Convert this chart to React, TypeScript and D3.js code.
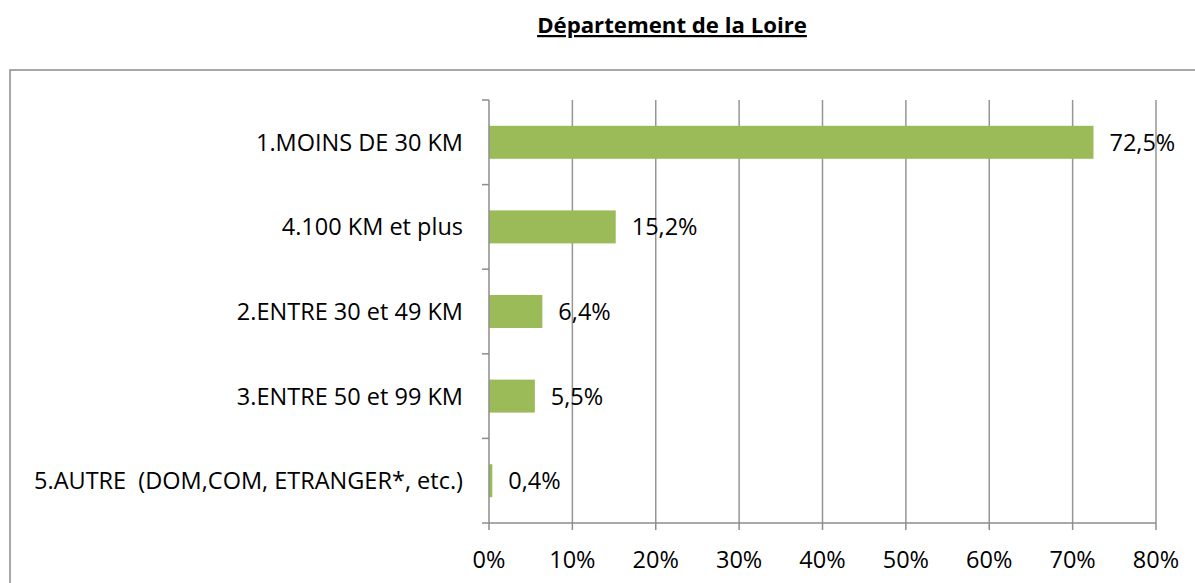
import { useEffect, useRef } from 'react';
import * as d3 from 'd3';

const categories = [
  '1.MOINS DE 30 KM',
  '4.100 KM et plus',
  '2.ENTRE 30 et 49 KM',
  '3.ENTRE 50 et 99 KM',
  '5.AUTRE  (DOM,COM, ETRANGER*, etc.)',
];
const values = [72.5, 15.2, 6.4, 5.5, 0.4];
const xTicks = [0, 10, 20, 30, 40, 50, 60, 70, 80];

const W = 1195;
const H = 583;
const FONT = '"Open Sans", Lato, sans-serif';
const FS = '23.5px';

export default function App() {
  const ref = useRef<SVGSVGElement | null>(null);

  useEffect(() => {
    const svg = d3.select(ref.current);
    svg.selectAll('*').remove();

    const left = 489;
    const right = 1156;
    const top = 100;
    const bottom = 523;

    const x = d3.scaleLinear().domain([0, 80]).range([left, right]);
    const y = d3.scaleBand().domain(categories).range([top, bottom]).paddingInner(0.61).paddingOuter(0.305);
    const band = d3.scaleBand().domain(categories).range([top, bottom]);

    // title
    svg
      .append('text')
      .attr('x', 672)
      .attr('y', 33)
      .attr('text-anchor', 'middle')
      .style('font-family', FONT)
      .style('font-size', '22.2px')
      .style('font-weight', 'bold')
      .style('text-decoration', 'underline')
      .text('Département de la Loire');

    // outer frame
    svg
      .append('rect')
      .attr('x', 10)
      .attr('y', 70)
      .attr('width', W)
      .attr('height', H)
      .attr('fill', 'none')
      .attr('stroke', '#8c8c8c')
      .attr('stroke-width', 1.5);

    // vertical gridlines
    svg
      .append('g')
      .selectAll('line')
      .data(xTicks.slice(1))
      .join('line')
      .attr('x1', (d) => x(d))
      .attr('x2', (d) => x(d))
      .attr('y1', top)
      .attr('y2', bottom)
      .attr('stroke', '#969696')
      .attr('stroke-width', 1.5);

    // bars
    svg
      .append('g')
      .selectAll('rect')
      .data(values)
      .join('rect')
      .attr('x', x(0))
      .attr('y', (_, i) => y(categories[i])!)
      .attr('width', (d) => x(d) - x(0))
      .attr('height', y.bandwidth())
      .attr('fill', '#9bbb59');

    // value labels
    svg
      .append('g')
      .selectAll('text')
      .data(values)
      .join('text')
      .attr('x', (d) => x(d) + 16)
      .attr('y', (_, i) => y(categories[i])! + y.bandwidth() / 2)
      .attr('dy', '0.36em')
      .style('font-family', FONT)
      .style('font-size', FS)
      .style('fill', '#000')
      .text((d) => d.toFixed(1).replace('.', ',') + '%');

    // y axis
    const yAxis = svg.append('g');
    yAxis
      .append('line')
      .attr('x1', left)
      .attr('x2', left)
      .attr('y1', top)
      .attr('y2', bottom)
      .attr('stroke', '#8c8c8c')
      .attr('stroke-width', 1.5);
    const yTickPos = categories.map((c) => band(c)!).concat([bottom]);
    yAxis
      .selectAll('line.tick')
      .data(yTickPos)
      .join('line')
      .attr('class', 'tick')
      .attr('x1', left - 7)
      .attr('x2', left)
      .attr('y1', (d) => d)
      .attr('y2', (d) => d)
      .attr('stroke', '#8c8c8c')
      .attr('stroke-width', 1.5);
    yAxis
      .selectAll('text')
      .data(categories)
      .join('text')
      .attr('x', 463)
      .attr('y', (d) => y(d)! + y.bandwidth() / 2)
      .attr('dy', '0.36em')
      .attr('text-anchor', 'end')
      .style('font-family', FONT)
      .style('font-size', FS)
      .style('white-space', 'pre')
      .text((d) => d);

    // x axis
    const xAxis = svg.append('g');
    xAxis
      .append('line')
      .attr('x1', left)
      .attr('x2', right)
      .attr('y1', bottom)
      .attr('y2', bottom)
      .attr('stroke', '#8c8c8c')
      .attr('stroke-width', 1.5);
    xAxis
      .selectAll('line.tick')
      .data(xTicks)
      .join('line')
      .attr('class', 'tick')
      .attr('x1', (d) => x(d))
      .attr('x2', (d) => x(d))
      .attr('y1', bottom)
      .attr('y2', bottom + 7)
      .attr('stroke', '#8c8c8c')
      .attr('stroke-width', 1.5);
    xAxis
      .selectAll('text')
      .data(xTicks)
      .join('text')
      .attr('x', (d) => x(d))
      .attr('y', 568)
      .attr('text-anchor', 'middle')
      .style('font-family', FONT)
      .style('font-size', FS)
      .text((d) => d + '%');
  }, []);

  return (
    <svg
      ref={ref}
      width={W}
      height={H}
      style={{ position: 'absolute', left: 0, top: 0, background: '#fff' }}
    />
  );
}
